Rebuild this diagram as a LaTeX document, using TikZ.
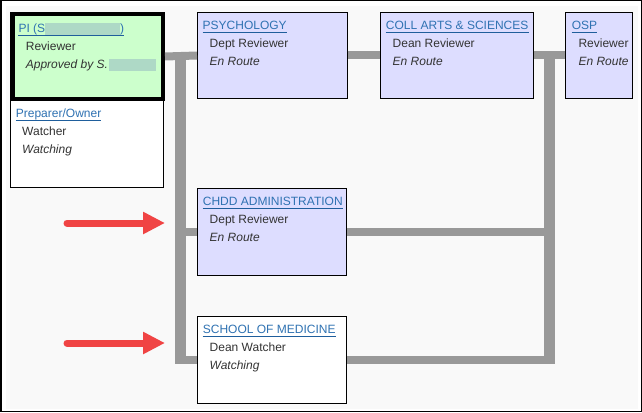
\documentclass[tikz,border=0pt]{standalone}
\usepackage{fontspec}
\setmainfont{Liberation Sans}
\usetikzlibrary{arrows.meta}
\definecolor{bgc}{HTML}{F9F9F9}
\definecolor{greenc}{HTML}{CCFFCC}
\definecolor{lavc}{HTML}{DDDDFF}
\definecolor{titlec}{HTML}{2F72B2}
\definecolor{ulinec}{HTML}{1F5E9C}
\definecolor{bodyc}{HTML}{333333}
\definecolor{connc}{HTML}{999999}
\definecolor{redc}{HTML}{F04444}
\definecolor{blurc}{HTML}{AED9C6}
\tikzset{
  box/.style={draw=black, line width=1pt, inner sep=0pt},
  txt/.style={anchor=base west, inner sep=0pt, font=\fontsize{12}{14}\selectfont, text=bodyc},
  itxt/.style={txt, font=\fontsize{12}{14}\selectfont\itshape},
  ttl/.style={txt, text=titlec},
  uline/.style={draw=ulinec, line width=1pt},
  hbar/.style={draw=connc, line width=8pt},
  vbar/.style={draw=connc, line width=10.5pt},
  redarrow/.style={draw=redc, line width=7pt, line cap=round, -{Triangle[length=22pt,width=21pt]}}
}
\begin{document}
\begin{tikzpicture}[x=1pt,y=-1pt]
\useasboundingbox (0,0) rectangle (642,412);
\fill[white] (0,0) rectangle (642,412);
\fill[bgc] (6,6) rectangle (638,409);
\draw[black, line width=1.5pt] (0.75,0.75) rectangle (641.25,411.25);

% connector corner coordinates
\coordinate (lt) at (180.5,52);
\coordinate (lb) at (180.5,363.5);
\coordinate (rt) at (549.5,52);
\coordinate (rb) at (549.5,363.5);

% boxes
\node[box, fill=white, minimum width=152.5pt, minimum height=87pt] (prep) at (86.75,143.5) {};
\node[box, fill=greenc, line width=4.5pt, minimum width=150.5pt, minimum height=84.5pt] (pi) at (87.5,56.5) {};
\node[box, fill=lavc, minimum width=149.5pt, minimum height=86pt] (psych) at (272.25,55.5) {};
\node[box, fill=lavc, minimum width=152.5pt, minimum height=86pt] (coll) at (456.75,55.5) {};
\node[box, fill=lavc, minimum width=66.5pt, minimum height=86pt] (osp) at (598.75,55.5) {};
\node[box, fill=lavc, minimum width=148.5pt, minimum height=86.5pt] (chdd) at (271.75,231.75) {};
\node[box, fill=white, minimum width=148.5pt, minimum height=86.5pt] (school) at (271.75,359.75) {};

% connectors
\draw[vbar] (lt) -- (lb);
\draw[vbar] (rt) -- (rb);
\draw[hbar] (pi.east) -- (psych.west);
\draw[hbar] (psych.east) -- (coll.west);
\draw[hbar] (coll.east) -- (osp.west);
\draw[hbar] (chdd.west -| lt) -- (chdd.west);
\draw[hbar] (chdd.east) -- (chdd.east -| rt);
\draw[hbar] (school.west -| lt) -- (school.west);
\draw[hbar] (school.east) -- (school.east -| rt);

% texts
\node[ttl] (piT) at (18.3,33) {PI (S{\color{blurc}\rule[-2pt]{75pt}{12.5pt}})};
\node[txt] (piA) at (25.7,51) {Reviewer};
\node[itxt] (piB) at (25.7,69) {Approved by S.\hspace{1.5pt}{\color{blurc}\rule[-2pt]{47pt}{12.5pt}}};

\node[ttl] (prepT) at (15.7,117.3) {Preparer/Owner};
\node[txt] (prepA) at (22,135) {Watcher};
\node[itxt] (prepB) at (22,153) {Watching};

\node[ttl] (psychT) at (202.5,29.5) {PSYCHOLOGY};
\node[txt] (psychA) at (209.5,47.5) {Dept Reviewer};
\node[itxt] (psychB) at (209.5,65.5) {En Route};

\node[ttl] (collT) at (385.7,29.5) {COLL ARTS \& SCIENCES};
\node[txt] (collA) at (392.5,47.5) {Dean Reviewer};
\node[itxt] (collB) at (392.5,65.5) {En Route};

\node[ttl] (ospT) at (571.7,29.5) {OSP};
\node[txt] (ospA) at (578.3,47.5) {Reviewer};
\node[itxt] (ospB) at (578.3,65.5) {En Route};

\node[ttl] (chddT) at (202.7,205.6) {CHDD ADMINISTRATION};
\node[txt] (chddA) at (209.5,223.5) {Dept Reviewer};
\node[itxt] (chddB) at (209.5,241.5) {En Route};

\node[ttl] (schoolT) at (202.7,333.4) {SCHOOL OF MEDICINE};
\node[txt] (schoolA) at (209.5,351.3) {Dean Watcher};
\node[itxt] (schoolB) at (209.5,369.3) {Watching};

% underlines
\foreach \t in {piT,prepT,psychT,collT,ospT,chddT,schoolT}{
  \draw[uline] ([yshift=-3pt]\t.base west) -- ([yshift=-3pt]\t.base east);
}

% red arrows
\coordinate (a1s) at (67,223);
\coordinate (a1e) at (165,223);
\coordinate (a2s) at (67,343);
\coordinate (a2e) at (165,343);
\draw[redarrow] (a1s) -- (a1e);
\draw[redarrow] (a2s) -- (a2e);
\end{tikzpicture}
\end{document}
